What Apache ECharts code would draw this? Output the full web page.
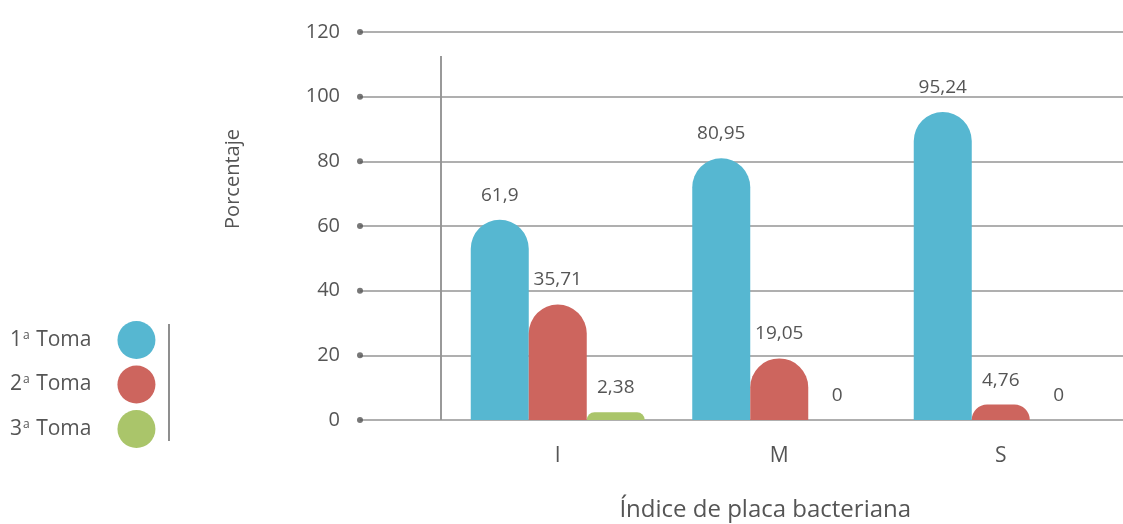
<!DOCTYPE html>
<html>
<head>
<meta charset="utf-8">
<script src="https://cdn.jsdelivr.net/npm/echarts@6/dist/echarts.min.js"></script>
<style>
  html, body { margin: 0; padding: 0; background: #fff; }
  #chart { width: 1123px; height: 524px; }
</style>
</head>
<body>
<div id="chart"></div>
<script>
const categories = ['I', 'M', 'S'];
const toma1 = [61.9, 80.95, 95.24];
const toma2 = [35.71, 19.05, 4.76];
const toma3 = [2.38, 0, 0];
const seriesNames = ['1ª Toma', '2ª Toma', '3ª Toma'];
const yTicks = [0, 20, 40, 60, 80, 100, 120];

const colors = ['#56b7d1', '#cd655e', '#aac56a'];
const textColor = '#555';
const font = 'Open Sans';

const chartDom = document.getElementById('chart');
const chart = echarts.init(chartDom);

// decimal comma like the original
const fmt = (v) => String(v).replace('.', ',');

const makeBar = (name, data, color) => ({
  name: name,
  type: 'bar',
  xAxisIndex: 0,
  yAxisIndex: 0,
  data: data,
  barWidth: 58,
  barGap: '0%',
  itemStyle: { color: color, borderRadius: [29, 29, 0, 0] },
  label: {
    show: true,
    position: 'top',
    distance: 15,
    color: textColor,
    fontFamily: font,
    fontSize: 19,
    formatter: (p) => fmt(p.value)
  }
});

const option = {
  animation: false,
  color: colors,
  legend: {
    orient: 'vertical',
    align: 'right',
    left: 5,
    top: 316,
    itemWidth: 38,
    itemHeight: 38,
    itemGap: 6.5,
    icon: 'circle',
    data: seriesNames,
    formatter: (name) => name.replace('ª', '{sup|a}'),
    textStyle: {
      color: textColor,
      fontFamily: font,
      fontSize: 21,
      padding: [0, 21, 0, 0],
      rich: {
        sup: { fontSize: 12, fontFamily: font, color: textColor, verticalAlign: 'top', padding: [0, 1, 6, 1] }
      }
    }
  },
  grid: [
    // bars
    { left: 447, right: 11.5, top: 32, bottom: 104, outerBoundsMode: 'none', containLabel: false },
    // full width grid lines with the tick labels
    { left: 360, right: 0, top: 32, bottom: 104, outerBoundsMode: 'none', containLabel: false }
  ],
  xAxis: [
    {
      type: 'category',
      gridIndex: 0,
      data: categories,
      axisLine: { show: false },
      axisTick: { show: false },
      axisLabel: { color: textColor, fontFamily: font, fontSize: 21, margin: 26 },
      name: 'Índice de placa bacteriana',
      nameLocation: 'middle',
      nameGap: 78,
      nameTextStyle: { color: textColor, fontFamily: font, fontSize: 24, padding: [0, 28, 0, 0] }
    },
    { type: 'value', gridIndex: 1, min: 0, max: 1, show: false }
  ],
  yAxis: [
    { type: 'value', gridIndex: 0, min: 0, max: 120, interval: 20, show: false },
    {
      type: 'value',
      gridIndex: 1,
      min: 0,
      max: 120,
      interval: 20,
      axisLine: { show: false },
      axisTick: { show: false },
      splitLine: { lineStyle: { color: '#959595', width: 1.5 } },
      axisLabel: {
        color: textColor,
        fontFamily: font,
        fontSize: 20,
        margin: 20,
        verticalAlign: 'middle',
        padding: [0, 0, 16, 0]
      }
    }
  ],
  graphic: [
    { type: 'line', shape: { x1: 441, y1: 56, x2: 441, y2: 420 }, style: { stroke: '#555', lineWidth: 1.2 } },
    { type: 'line', shape: { x1: 169, y1: 324, x2: 169, y2: 441 }, style: { stroke: '#444', lineWidth: 1.2 } },
    {
      type: 'text',
      x: 233,
      y: 179,
      rotation: Math.PI / 2,
      style: {
        text: 'Porcentaje',
        fill: textColor,
        font: '20px "' + font + '"',
        textAlign: 'center',
        textVerticalAlign: 'middle'
      }
    }
  ],
  series: [
    makeBar(seriesNames[0], toma1, colors[0]),
    makeBar(seriesNames[1], toma2, colors[1]),
    makeBar(seriesNames[2], toma3, colors[2]),
    {
      // dots at the start of each grid line
      type: 'scatter',
      xAxisIndex: 1,
      yAxisIndex: 1,
      data: yTicks.map((t) => [0, t]),
      symbol: 'circle',
      symbolSize: 6,
      itemStyle: { color: '#555' },
      clip: false,
      silent: true
    }
  ]
};

chart.setOption(option);
window.addEventListener('resize', chart.resize);
</script>
</body>
</html>
